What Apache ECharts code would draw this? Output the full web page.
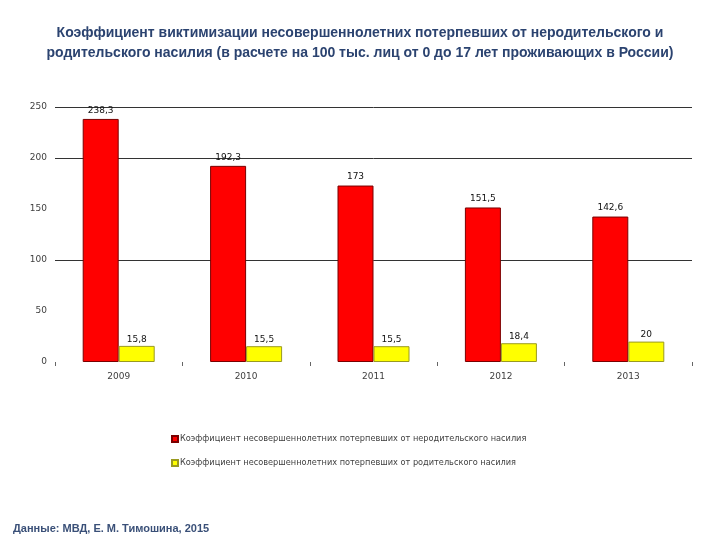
<!DOCTYPE html>
<html><head><meta charset="utf-8">
<script src="https://cdn.jsdelivr.net/npm/echarts@6/dist/echarts.min.js"></script>
<style>html,body{margin:0;padding:0;background:#fff}#c{width:720px;height:540px}</style>
</head><body><div id="c"></div>
<script>
const years = ['2009', '2010', '2011', '2012', '2013'];
const nonParental = [238.3, 192.3, 173, 151.5, 142.6];
const parental = [15.8, 15.5, 15.5, 18.4, 20];
const seriesNames = [
  'Коэффициент несовершеннолетних потерпевших от неродительского насилия',
  'Коэффициент несовершеннолетних потерпевших от родительского насилия'
];
const titleText = 'Коэффициент виктимизации несовершеннолетних потерпевших от неродительского и\nродительского насилия (в расчете на 100 тыс. лиц от 0 до 17 лет проживающих в России)';
const footerText = 'Данные: МВД, Е. М. Тимошина, 2015';

const fmt = p => String(p.value).replace('.', ',');
const chart = echarts.init(document.getElementById('c'));
chart.setOption({
  animation: false,
  title: [{
    text: titleText, left: 'center', top: 18,
    textStyle: {fontFamily: 'Liberation Sans Narrow, Liberation Sans, sans-serif', fontSize: 14, fontWeight: 'bold', color: '#2B4370', lineHeight: 20}
  }, {
    text: footerText, left: 8, top: 518,
    textStyle: {fontFamily: 'Liberation Sans, sans-serif', fontSize: 11, fontWeight: 'bold', color: '#3A5078'}
  }],
  legend: {
    orient: 'vertical', left: 166, top: 430, itemGap: 16,
    itemWidth: 6, itemHeight: 6, icon: 'rect',
    textStyle: {fontFamily: 'DejaVu Sans, sans-serif', fontSize: 8.2, color: '#404040', padding: [0, 0, 0, -3]},
    data: seriesNames
  },
  grid: {left: 55, right: 28, top: 107, bottom: 178},
  xAxis: {
    type: 'category', data: years,
    axisLine: {show: false},
    axisTick: {show: true, length: 4, lineStyle: {color: '#666'}},
    axisLabel: {fontFamily: 'DejaVu Sans, sans-serif', fontSize: 9, color: '#404040', margin: 10}
  },
  yAxis: {
    type: 'value', min: 0, max: 250, interval: 50,
    axisLine: {show: false}, axisTick: {show: false},
    axisLabel: {fontFamily: 'DejaVu Sans, sans-serif', fontSize: 9, color: '#404040', margin: 8},
    splitLine: {show: true, lineStyle: {color: ['rgba(0,0,0,0)', 'rgba(0,0,0,0)', '#333', 'rgba(0,0,0,0)', '#333', '#333'], width: 1}}
  },
  series: [{
    name: seriesNames[0], type: 'bar', data: nonParental, barWidth: 36, barGap: '0%',
    itemStyle: {color: '#FF0000', borderColor: '#7A0000', borderWidth: 1},
    label: {show: true, position: 'top', formatter: fmt, fontFamily: 'DejaVu Sans, sans-serif', fontSize: 9, color: '#111', distance: 4}
  }, {
    name: seriesNames[1], type: 'bar', data: parental, barWidth: 36,
    itemStyle: {color: '#FFFF00', borderColor: '#9A9A20', borderWidth: 1},
    label: {show: true, position: 'top', formatter: fmt, fontFamily: 'DejaVu Sans, sans-serif', fontSize: 9, color: '#111', distance: 2}
  }]
});
</script></body></html>
